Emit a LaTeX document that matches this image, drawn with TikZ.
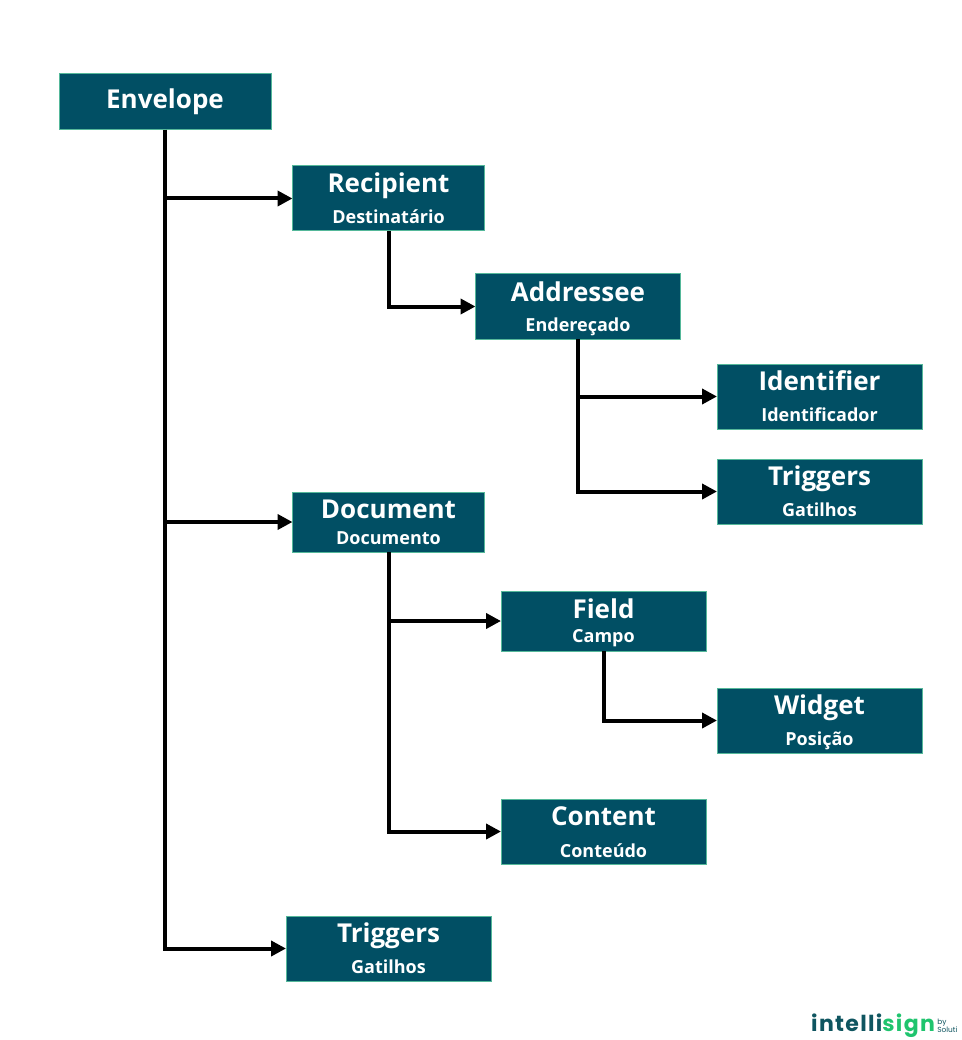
\documentclass[tikz,border=0pt]{standalone}
\usepackage{fontspec}
\setmainfont{Open Sans}
\newfontfamily\logofont[LetterSpace=6]{Poppins}
\newfontfamily\logosmall{Poppins}
\usetikzlibrary{positioning}
\usetikzlibrary{arrows.meta}
\definecolor{boxfill}{HTML}{014F64}
\definecolor{boxline}{HTML}{55B89A}
\definecolor{logodark}{HTML}{0F5560}
\definecolor{logogreen}{HTML}{1FC46E}
\newcommand{\headtxt}[1]{{\fontsize{26}{26}\selectfont\bfseries\vphantom{Ap}#1}}
\newcommand{\subtxt}[1]{{\fontsize{18}{18}\selectfont\bfseries\vphantom{Ap}#1}}
\newcommand{\twotxt}[3]{\rule{0pt}{23.6pt}\headtxt{#1}\\[#2]\subtxt{#3}}
\tikzset{
  wide/.style={minimum width=205pt},
  narrow/.style={minimum width=192pt},
  envbox/.style={draw=boxline,line width=1pt,fill=boxfill,text=white,align=center,inner sep=0pt,outer sep=0pt,minimum height=65pt,
    execute at begin node={\baselineskip=0pt\lineskiplimit=-100pt}},
  link/.style={draw=black,line width=4pt,-{Triangle[length=15pt,width=15pt]}},
}
\begin{document}
\begin{tikzpicture}[x=1pt,y=-1pt]
\useasboundingbox (0,0) rectangle (961,1040);
\node[envbox,minimum width=212pt,minimum height=56pt](envelope) at (165,102){\headtxt{Envelope}};
\node[envbox,narrow,below right=36pt and 21.5pt of envelope](recipient){\twotxt{Recipient}{30.5pt}{Destinatário}};
\node[envbox,wide,below right=43pt and -9pt of recipient](addressee){\twotxt{Addressee}{30pt}{Endereçado}};
\node[envbox,wide,below right=25pt and 36.5pt of addressee](identifier){\twotxt{Identifier}{31pt}{Identificador}};
\node[envbox,wide,below=30pt of identifier](triggersa){\twotxt{Triggers}{31pt}{Gatilhos}};
\node[envbox,narrow,minimum height=60pt,below=261pt of recipient](document){\twotxt{Document}{26pt}{Documento}};
\node[envbox,wide,minimum height=60pt,below right=39pt and 16.5pt of document](field){\twotxt{Field}{24pt}{Campo}};
\node[envbox,wide,below right=37pt and 11pt of field](widget){\twotxt{Widget}{31pt}{Posição}};
\node[envbox,wide,below=148pt of field](content){\twotxt{Content}{32pt}{Conteúdo}};
\node[envbox,wide,below=364pt of document](triggersb){\twotxt{Triggers}{31pt}{Gatilhos}};
\draw[link] (envelope.south) |- (recipient.west);
\draw[link] (envelope.south) |- (document.west);
\draw[link] (envelope.south) |- (triggersb.west);
\draw[link] (recipient.south) |- (addressee.west);
\draw[link] (addressee.south) |- (identifier.west);
\draw[link] (addressee.south) |- (triggersa.west);
\draw[link] (document.south) |- (field.west);
\draw[link] (document.south) |- (content.west);
\draw[link] (field.south) |- (widget.west);
% logo
\node[anchor=west,inner sep=0pt](logo) at (811,1026){\logofont\bfseries\fontsize{22}{22}\selectfont\textcolor{logodark}{intelli}\textcolor{logogreen}{sign}};
\node[inner sep=0pt,align=left,text=logodark,font=\logosmall\fontsize{7.4}{8.5}\selectfont,right=2pt of logo]{by\\Soluti};
\end{tikzpicture}
\end{document}
